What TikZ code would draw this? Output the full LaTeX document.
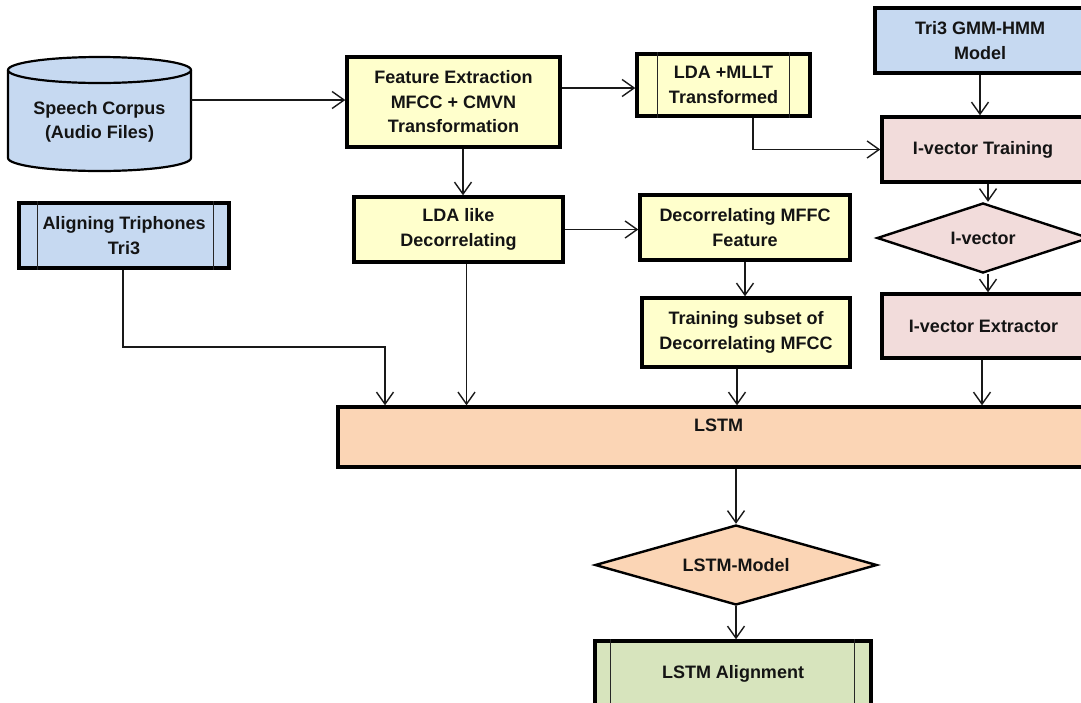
\documentclass[tikz,border=0pt]{standalone}
\usepackage{fontspec}
\setmainfont{Liberation Sans}
\usetikzlibrary{arrows.meta,shapes.geometric}

\definecolor{fillblue}{HTML}{C6D9F1}
\definecolor{fillyellow}{HTML}{FFFFCC}
\definecolor{fillpink}{HTML}{F2DCDB}
\definecolor{fillpeach}{HTML}{FBD5B5}
\definecolor{fillgreen}{HTML}{D7E4BD}

\tikzset{
  lbl/.style={font=\fontsize{18}{24.5}\selectfont\bfseries, align=center, text=black!92},
  stepbox/.style={lbl, draw=black, line width=3.4pt, rectangle, inner sep=0pt},
  decision/.style={lbl, draw=black, line width=2.4pt, diamond, inner sep=0pt},
  conn/.style={draw=black!90, line width=1.4pt, -{Straight Barb[length=12pt,width=17pt,line width=1.4pt]}},
  sideline/.style={draw=black!85, line width=1.4pt},
}

\begin{document}
\begin{tikzpicture}[x=1pt, y=-1pt]
\useasboundingbox (0,0) rectangle (1081,702);
\clip (0,0) rectangle (1081,702);

% database cylinder
\filldraw[fill=fillblue, draw=black, line width=2.2pt]
  (8,70) -- (8,158) arc[start angle=180, end angle=360, x radius=91.5pt, y radius=13pt]
  -- (191,70);
\filldraw[fill=fillblue, draw=black, line width=2.2pt]
  (99.5,70) ellipse[x radius=91.5pt, y radius=13pt];
\node[lbl, minimum width=183, minimum height=113, inner sep=0pt] (corpus) at (99.5,113) {};
\node[lbl] (corpustxt) at (99.5,122) {Speech Corpus\\(Audio Files)};

% process boxes
\node[stepbox, fill=fillyellow, minimum width=213, minimum height=90] (feat) at (453.5,102)
  {Feature Extraction\\MFCC + CMVN\\Transformation};
\node[stepbox, fill=fillyellow, minimum width=173, minimum height=62] (mllt) at (723.5,85)
  {LDA +MLLT\\Transformed};
\node[stepbox, fill=fillblue, minimum width=210, minimum height=65] (tri3) at (980,40.5)
  {Tri3 GMM-HMM\\Model};
\node[stepbox, fill=fillpink, minimum width=202, minimum height=65] (ivt) at (983,149.5)
  {I-vector Training};
\node[stepbox, fill=fillblue, minimum width=210, minimum height=65] (align) at (124,235.5)
  {Aligning Triphones\\Tri3};
\node[stepbox, fill=fillyellow, minimum width=209, minimum height=65] (ldalike) at (458.5,229.5)
  {LDA like\\Decorrelating};
\node[stepbox, fill=fillyellow, minimum width=210, minimum height=65] (decor) at (745,227.5)
  {Decorrelating MFFC\\Feature};
\node[decision, fill=fillpink, aspect=3.03, minimum width=212, minimum height=70] (ivec) at (983,238)
  {I-vector};
\node[stepbox, fill=fillyellow, minimum width=208, minimum height=69] (subset) at (746,332.5)
  {Training subset of\\Decorrelating MFCC};
\node[stepbox, fill=fillpink, minimum width=203, minimum height=64] (ive) at (983.5,326)
  {I-vector Extractor};
\node[stepbox, fill=fillpeach, minimum width=761, minimum height=60] (lstm) at (718.5,437) {};
\node[lbl] (lstmtxt) at (718.5,425) {LSTM};
\node[decision, fill=fillpeach, aspect=3.52, minimum width=282, minimum height=80] (lmodel) at (736,565)
  {LSTM-Model};
\node[stepbox, fill=fillgreen, minimum width=276, minimum height=66] (lalign) at (733,674)
  {LSTM Alignment};

% side bars of the predefined-process boxes
\draw[sideline] ([xshift=22pt]mllt.north west) -- ([xshift=22pt]mllt.south west);
\draw[sideline] ([xshift=-22pt]mllt.north east) -- ([xshift=-22pt]mllt.south east);
\draw[sideline] ([xshift=20pt]align.north west) -- ([xshift=20pt]align.south west);
\draw[sideline] ([xshift=-17pt]align.north east) -- ([xshift=-17pt]align.south east);
\draw[sideline] ([xshift=17pt]lalign.north west) -- ([xshift=17pt]lalign.south west);
\draw[sideline] ([xshift=-18pt]lalign.north east) -- ([xshift=-18pt]lalign.south east);

% connectors
\coordinate (c1) at ([yshift=13pt]corpus.east);
\draw[conn] (c1) -- (c1 -| feat.west);
\coordinate (c2) at ([yshift=-3pt]mllt.west);
\draw[conn] (c2 -| feat.east) -- (c2);
\draw[conn] ([xshift=29.5pt]mllt.south) |- (ivt.west);
\draw[conn] (tri3.south) -- (tri3.south |- ivt.north);
\coordinate (c3) at ([xshift=5pt]ivt.south);
\draw[conn] (c3) -- (c3 |- ivec.north);
\coordinate (c4) at ([xshift=5pt]ivec.south);
\draw[conn] (c4) -- (c4 |- ive.north);
\draw[conn] ([xshift=-1.5pt]ive.south) -- ([xshift=-1.5pt]ive.south |- lstm.north);
\coordinate (c5) at ([xshift=9.5pt]feat.south);
\draw[conn] (c5) -- (c5 |- ldalike.north);
\coordinate (c6) at ([xshift=8pt]ldalike.south);
\draw[conn] (c6) -- (c6 |- lstm.north);
\draw[conn] (ldalike.east) -- (ldalike.east -| decor.west);
\draw[conn] (decor.south) -- (decor.south |- subset.north);
\coordinate (c7) at ([xshift=-9pt]subset.south);
\draw[conn] (c7) -- (c7 |- lstm.north);
\coordinate (bend) at (385,347);
\draw[conn] ([xshift=-1pt]align.south) |- (bend) -- (bend |- lstm.north);
\draw[conn] (lmodel.north |- lstm.south) -- (lmodel.north);
\draw[conn] (lmodel.south) -- (lmodel.south |- lalign.north);
\end{tikzpicture}
\end{document}
